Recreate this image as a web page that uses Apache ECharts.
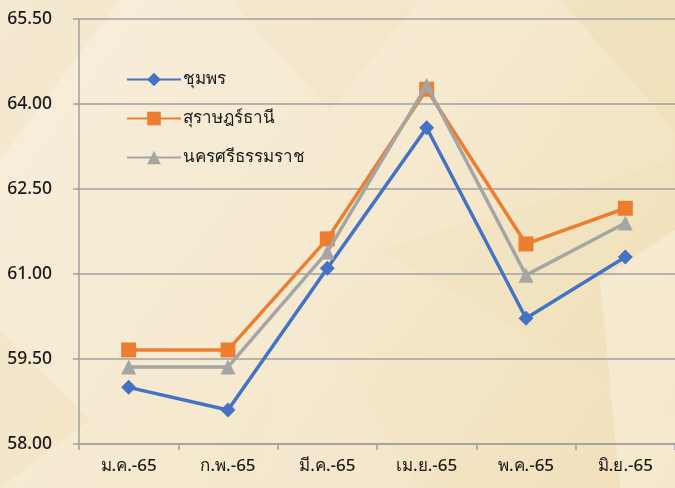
<!DOCTYPE html>
<html><head><meta charset="utf-8">
<script src="https://cdn.jsdelivr.net/npm/echarts@6/dist/echarts.min.js"></script>
<style>html,body{margin:0;padding:0;}#c{width:675px;height:488px;}</style>
</head><body><div id="c"></div>
<script>
const categories = ['ม.ค.-65','ก.พ.-65','มี.ค.-65','เม.ย.-65','พ.ค.-65','มิ.ย.-65'];
const chumphon = [59.0, 58.6, 61.1, 63.58, 60.22, 61.3];
const suratthani = [59.66, 59.66, 61.62, 64.26, 61.53, 62.16];
const nakhon = [59.36, 59.36, 61.39, 64.33, 60.98, 61.9];
const seriesNames = ['ชุมพร','สุราษฎร์ธานี','นครศรีธรรมราช'];

const chart = echarts.init(document.getElementById('c'));
const font = 'Noto Sans';
function poly(points, color){
  return {type:'polygon', silent:true, z:-10, shape:{points}, style:{fill:color}};
}
chart.setOption({
  backgroundColor: {type:'linear', x:0, y:0, x2:1, y2:1, colorStops:[
    {offset:0, color:'#f7eedb'},{offset:0.5, color:'#f5e9cf'},{offset:1, color:'#f1dfb8'}]},
  graphic: [
    poly([[0,0],[120,0],[0,160]], 'rgba(240,222,185,0.3)'),
    poly([[230,0],[420,0],[330,110]], 'rgba(238,220,180,0.25)'),
    poly([[560,0],[675,0],[675,130]], 'rgba(236,214,165,0.3)'),
    poly([[380,250],[675,160],[675,420]], 'rgba(240,222,180,0.25)'),
    poly([[600,280],[675,230],[675,488],[620,488]], 'rgba(250,244,230,0.45)'),
    poly([[0,330],[90,420],[0,488]], 'rgba(236,218,180,0.3)'),
    poly([[300,300],[420,488],[250,488]], 'rgba(246,236,214,0.3)')
  ],
  grid: {left:79, right:-2, top:19, bottom:44, containLabel:false},
  legend: {
    orient:'vertical', left:121, top:66, itemGap:22, itemWidth:54, itemHeight:17,
    textStyle:{fontFamily:font, fontSize:17, fontWeight:500, color:'#1a1a1a', padding:[0,0,0,-3]},
    data: seriesNames
  },
  xAxis: {
    type:'category', data:categories, boundaryGap:true,
    axisLine:{lineStyle:{color:'#a0a0a0', width:1.5}},
    axisTick:{show:true, length:6, lineStyle:{color:'#a0a0a0', width:1.5}},
    axisLabel:{fontFamily:font, fontSize:17, fontWeight:500, color:'#1a1a1a', margin:14}
  },
  yAxis: {
    type:'value', min:58, max:65.5, interval:1.5,
    axisLine:{show:true, lineStyle:{color:'#a0a0a0', width:1.5}},
    axisTick:{show:true, length:6, inside:false, lineStyle:{color:'#a0a0a0', width:1.5}},
    splitLine:{lineStyle:{color:'#a0a0a0', width:1.5}},
    axisLabel:{fontFamily:font, fontSize:17.5, fontWeight:500, color:'#1a1a1a', margin:27,
      formatter: v => v.toFixed(2)}
  },
  series: [
    {name:seriesNames[0], type:'line', data:chumphon, symbol:'diamond', symbolSize:15,
      lineStyle:{width:3.5, color:'#4472c4'}, itemStyle:{color:'#4472c4'}, z:3},
    {name:seriesNames[1], type:'line', data:suratthani, symbol:'rect', symbolSize:15,
      lineStyle:{width:3.5, color:'#ed7d31'}, itemStyle:{color:'#ed7d31'}, z:2},
    {name:seriesNames[2], type:'line', data:nakhon, symbol:'triangle', symbolSize:15,
      lineStyle:{width:3.5, color:'#a5a5a5'}, itemStyle:{color:'#a5a5a5'}, z:4}
  ],
  animation:false
});
</script></body></html>
